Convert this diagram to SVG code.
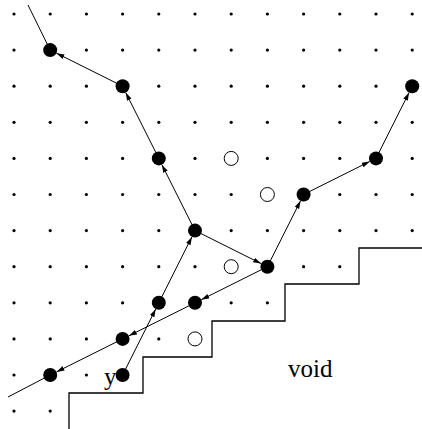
<svg xmlns="http://www.w3.org/2000/svg" xmlns:xlink="http://www.w3.org/1999/xlink" width="422" height="429" viewBox="0 0 422 429">
<style>
.d{fill:#000}
.n{fill:#000}
.h{fill:#fff;stroke:#000;stroke-width:1}
.e{stroke:#000;stroke-width:1;fill:none}
.a{marker-end:url(#ah)}
.wall{stroke:#000;stroke-width:1.3;fill:none}
.t{font-family:"Liberation Serif","Times New Roman",serif;font-size:25px;fill:#000}
</style>
<defs>
<marker id="ah" markerUnits="userSpaceOnUse" markerWidth="9" markerHeight="6" refX="8" refY="2.5" orient="auto">
<path d="M0,0 L8,2.5 L0,5 z" fill="#000"/>
</marker>
<circle id="dot" r="1.6" class="d"/>
</defs>
<rect width="422" height="429" fill="#fff"/>
<g id="grid">
<g transform="translate(0,14)"><use xlink:href="#dot" x="14"/><use xlink:href="#dot" x="50.2"/><use xlink:href="#dot" x="86.4"/><use xlink:href="#dot" x="122.6"/><use xlink:href="#dot" x="158.8"/><use xlink:href="#dot" x="195"/><use xlink:href="#dot" x="231.2"/><use xlink:href="#dot" x="267.4"/><use xlink:href="#dot" x="303.6"/><use xlink:href="#dot" x="339.8"/><use xlink:href="#dot" x="376"/><use xlink:href="#dot" x="412.2"/></g>
<g transform="translate(0,50.1)"><use xlink:href="#dot" x="14"/><use xlink:href="#dot" x="86.4"/><use xlink:href="#dot" x="122.6"/><use xlink:href="#dot" x="158.8"/><use xlink:href="#dot" x="195"/><use xlink:href="#dot" x="231.2"/><use xlink:href="#dot" x="267.4"/><use xlink:href="#dot" x="303.6"/><use xlink:href="#dot" x="339.8"/><use xlink:href="#dot" x="376"/><use xlink:href="#dot" x="412.2"/></g>
<g transform="translate(0,86.2)"><use xlink:href="#dot" x="14"/><use xlink:href="#dot" x="50.2"/><use xlink:href="#dot" x="86.4"/><use xlink:href="#dot" x="158.8"/><use xlink:href="#dot" x="195"/><use xlink:href="#dot" x="231.2"/><use xlink:href="#dot" x="267.4"/><use xlink:href="#dot" x="303.6"/><use xlink:href="#dot" x="339.8"/><use xlink:href="#dot" x="376"/></g>
<g transform="translate(0,122.3)"><use xlink:href="#dot" x="14"/><use xlink:href="#dot" x="50.2"/><use xlink:href="#dot" x="86.4"/><use xlink:href="#dot" x="122.6"/><use xlink:href="#dot" x="158.8"/><use xlink:href="#dot" x="195"/><use xlink:href="#dot" x="231.2"/><use xlink:href="#dot" x="267.4"/><use xlink:href="#dot" x="303.6"/><use xlink:href="#dot" x="339.8"/><use xlink:href="#dot" x="376"/><use xlink:href="#dot" x="412.2"/></g>
<g transform="translate(0,158.4)"><use xlink:href="#dot" x="14"/><use xlink:href="#dot" x="50.2"/><use xlink:href="#dot" x="86.4"/><use xlink:href="#dot" x="122.6"/><use xlink:href="#dot" x="195"/><use xlink:href="#dot" x="267.4"/><use xlink:href="#dot" x="303.6"/><use xlink:href="#dot" x="339.8"/><use xlink:href="#dot" x="412.2"/></g>
<g transform="translate(0,194.5)"><use xlink:href="#dot" x="14"/><use xlink:href="#dot" x="50.2"/><use xlink:href="#dot" x="86.4"/><use xlink:href="#dot" x="122.6"/><use xlink:href="#dot" x="158.8"/><use xlink:href="#dot" x="195"/><use xlink:href="#dot" x="231.2"/><use xlink:href="#dot" x="339.8"/><use xlink:href="#dot" x="376"/><use xlink:href="#dot" x="412.2"/></g>
<g transform="translate(0,230.6)"><use xlink:href="#dot" x="14"/><use xlink:href="#dot" x="50.2"/><use xlink:href="#dot" x="86.4"/><use xlink:href="#dot" x="122.6"/><use xlink:href="#dot" x="158.8"/><use xlink:href="#dot" x="231.2"/><use xlink:href="#dot" x="267.4"/><use xlink:href="#dot" x="303.6"/><use xlink:href="#dot" x="339.8"/><use xlink:href="#dot" x="376"/><use xlink:href="#dot" x="412.2"/></g>
<g transform="translate(0,266.7)"><use xlink:href="#dot" x="14"/><use xlink:href="#dot" x="50.2"/><use xlink:href="#dot" x="86.4"/><use xlink:href="#dot" x="122.6"/><use xlink:href="#dot" x="158.8"/><use xlink:href="#dot" x="195"/><use xlink:href="#dot" x="303.6"/><use xlink:href="#dot" x="339.8"/></g>
<g transform="translate(0,302.8)"><use xlink:href="#dot" x="14"/><use xlink:href="#dot" x="50.2"/><use xlink:href="#dot" x="86.4"/><use xlink:href="#dot" x="122.6"/><use xlink:href="#dot" x="231.2"/><use xlink:href="#dot" x="267.4"/></g>
<g transform="translate(0,338.9)"><use xlink:href="#dot" x="14"/><use xlink:href="#dot" x="50.2"/><use xlink:href="#dot" x="86.4"/><use xlink:href="#dot" x="158.8"/></g>
<g transform="translate(0,375)"><use xlink:href="#dot" x="14"/><use xlink:href="#dot" x="86.4"/></g>
<g transform="translate(0,411.1)"><use xlink:href="#dot" x="14"/><use xlink:href="#dot" x="50.2"/></g>
</g>
<path id="staircase" class="wall" d="M422,248 H359 V284 H285 V321 H212 V357 H143 V393 H69 V429"/>
<g id="connectors">
<line class="e" x1="28" y1="5" x2="50.2" y2="50.1"/>
<line class="e" x1="50.2" y1="375" x2="8" y2="397"/>
<line class="e a" x1="122.6" y1="86.2" x2="56.5" y2="53.2"/>
<line class="e a" x1="158.8" y1="158.4" x2="125.7" y2="92.5"/>
<line class="e a" x1="195" y1="230.6" x2="161.9" y2="164.7"/>
<line class="e a" x1="195" y1="230.6" x2="261.1" y2="263.6"/>
<line class="e a" x1="267.4" y1="266.7" x2="201.3" y2="299.7"/>
<line class="e a" x1="195" y1="302.8" x2="128.9" y2="335.8"/>
<line class="e a" x1="122.6" y1="338.9" x2="56.5" y2="371.9"/>
<line class="e a" x1="122.6" y1="375" x2="155.7" y2="309.1"/>
<line class="e a" x1="158.8" y1="302.8" x2="191.9" y2="236.9"/>
<line class="e a" x1="267.4" y1="266.7" x2="300.5" y2="200.8"/>
<line class="e a" x1="303.6" y1="194.5" x2="369.7" y2="161.5"/>
<line class="e a" x1="376" y1="158.4" x2="409.1" y2="92.5"/>
</g>
<g id="n1"><circle class="n" cx="50.2" cy="50.1" r="7"/></g>
<g id="n2"><circle class="n" cx="122.6" cy="86.2" r="7"/></g>
<g id="n3"><circle class="n" cx="158.8" cy="158.4" r="7"/></g>
<g id="n4"><circle class="n" cx="195" cy="230.6" r="7"/></g>
<g id="n5"><circle class="n" cx="267.4" cy="266.7" r="7"/></g>
<g id="n6"><circle class="n" cx="303.6" cy="194.5" r="7"/></g>
<g id="n7"><circle class="n" cx="376" cy="158.4" r="7"/></g>
<g id="n8"><circle class="n" cx="412.2" cy="86.2" r="7"/></g>
<g id="n9"><circle class="n" cx="158.8" cy="302.8" r="7"/></g>
<g id="n10"><circle class="n" cx="195" cy="302.8" r="7"/></g>
<g id="n11"><circle class="n" cx="122.6" cy="338.9" r="7"/></g>
<g id="n12"><circle class="n" cx="50.2" cy="375" r="7"/></g>
<g id="n13"><circle class="n" cx="122.6" cy="375" r="7"/></g>
<g id="h1"><circle class="h" cx="231.2" cy="158.4" r="7"/></g>
<g id="h2"><circle class="h" cx="267.4" cy="194.5" r="7"/></g>
<g id="h3"><circle class="h" cx="231.2" cy="266.7" r="7"/></g>
<g id="h4"><circle class="h" cx="195" cy="338.9" r="7"/></g>
<text class="t" x="104" y="385">y</text>
<text class="t" x="288" y="377">void</text>
</svg>
